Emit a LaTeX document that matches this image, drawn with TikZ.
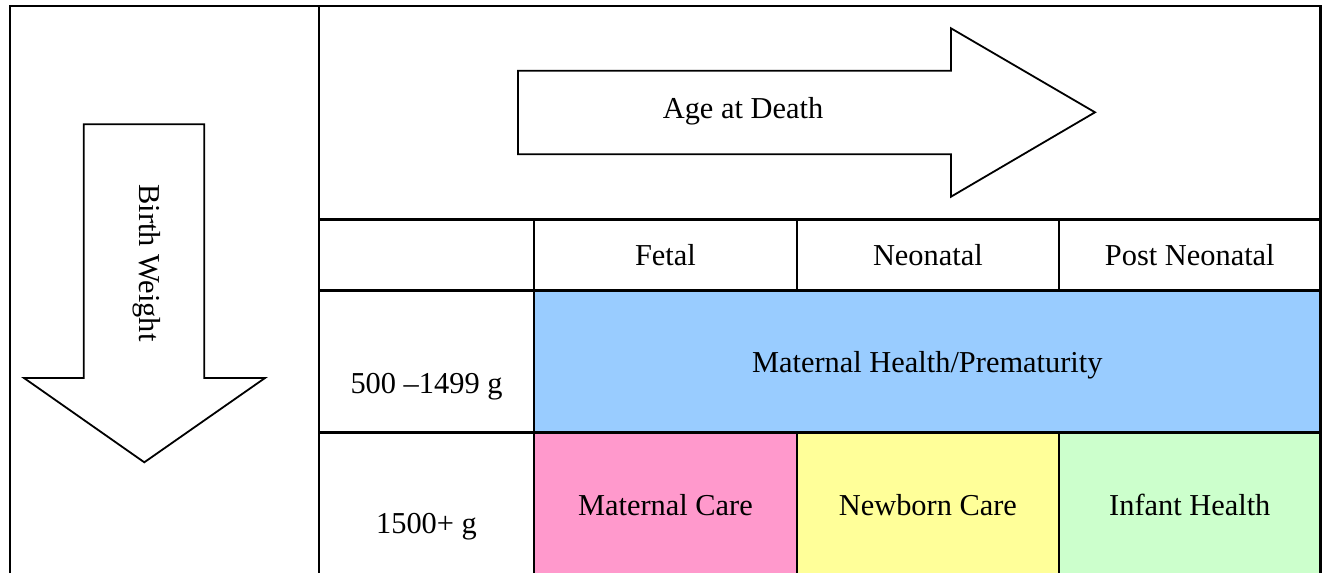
\documentclass[tikz,border=0pt]{standalone}
\usepackage{fontspec}
\setmainfont{Liberation Serif}
\begin{document}
\begin{tikzpicture}[x=1pt,y=-1pt,
  grid/.style={line width=2.6pt, line cap=rect},
  arrowshape/.style={draw=black, fill=white, line width=1.8pt, line join=miter},
  lbl/.style={font=\fontsize{30.4}{34}\selectfont, inner sep=0pt, anchor=base},
  cellblue/.style={fill={rgb,255:red,153;green,204;blue,255}},
  cellpink/.style={fill={rgb,255:red,255;green,153;blue,204}},
  cellyellow/.style={fill={rgb,255:red,255;green,255;blue,153}},
  cellgreen/.style={fill={rgb,255:red,204;green,255;blue,204}}]
\useasboundingbox (0,0) rectangle (1322,573);
\fill[white] (0,0) rectangle (1322,573);
% coloured cells
\fill[cellblue] (534,290.7) rectangle (1320.5,432.7);
\fill[cellpink] (534,432.7) rectangle (796.8,573);
\fill[cellyellow] (796.8,432.7) rectangle (1059,573);
\fill[cellgreen] (1059,432.7) rectangle (1320.5,573);
% grid coordinates
\coordinate (tl) at (10,6);
\coordinate (tr) at (1320.5,6);
\coordinate (bl) at (10,573);
\coordinate (br) at (1320.5,573);
\coordinate (vt) at (319,6);
\coordinate (vb) at (319,573);
\coordinate (h1l) at (319,219.3);
\coordinate (h1r) at (1320.5,219.3);
\coordinate (h2l) at (319,290.7);
\coordinate (h2r) at (1320.5,290.7);
\coordinate (h3l) at (319,432.7);
\coordinate (h3r) at (1320.5,432.7);
\coordinate (c1t) at (534,219.3);
\coordinate (c1b) at (534,573);
\coordinate (c2t) at (796.8,219.3);
\coordinate (c2b) at (796.8,290.7);
\coordinate (c2c) at (796.8,432.7);
\coordinate (c2d) at (796.8,573);
\coordinate (c3t) at (1059,219.3);
\coordinate (c3b) at (1059,290.7);
\coordinate (c3c) at (1059,432.7);
\coordinate (c3d) at (1059,573);
\draw[grid, line cap=butt] (bl) -- (tl) -- (tr) -- (br);
\draw[grid, line cap=butt] (vt) -- (vb);
\draw[grid] (h1l) -- (h1r);
\draw[grid] (h2l) -- (h2r);
\draw[grid] (h3l) -- (h3r);
\draw[grid, line cap=butt] (c1t) -- (c1b);
\draw[grid] (c2t) -- (c2b);
\draw[grid, line cap=butt] (c2c) -- (c2d);
\draw[grid] (c3t) -- (c3b);
\draw[grid, line cap=butt] (c3c) -- (c3d);
% right arrow (Age at Death)
\draw[arrowshape] (518,70.7) -- (951,70.7) -- (951,28.3) -- (1095,112.3)
  -- (951,196.7) -- (951,154.3) -- (518,154.3) -- cycle;
% down arrow (Birth Weight)
\draw[arrowshape] (83.7,124.3) -- (204.3,124.3) -- (204.3,378) -- (265,378)
  -- (144.3,462.3) -- (24,378) -- (83.7,378) -- cycle;
% labels
\node[lbl] (age) at (743,118.5) {Age at Death};
\node[font=\fontsize{30.4}{34}\selectfont, inner sep=0pt, rotate=-90] (bw) at (147,263) {Birth Weight};
\node[lbl] (fetal) at (665.4,265.5) {Fetal};
\node[lbl] (neo) at (927.9,265.5) {Neonatal};
\node[lbl] (post) at (1189.8,265.5) {Post Neonatal};
\node[lbl] (r1) at (426.5,393.5) {500 –1499 g};
\node[lbl] (mhp) at (927.3,372) {Maternal Health/Prematurity};
\node[lbl] (r2) at (426.5,533.5) {1500+ g};
\node[lbl] (mc) at (665.4,515.5) {Maternal Care};
\node[lbl] (nc) at (927.9,515.5) {Newborn Care};
\node[lbl] (ih) at (1189.8,515.5) {Infant Health};
\end{tikzpicture}
\end{document}
